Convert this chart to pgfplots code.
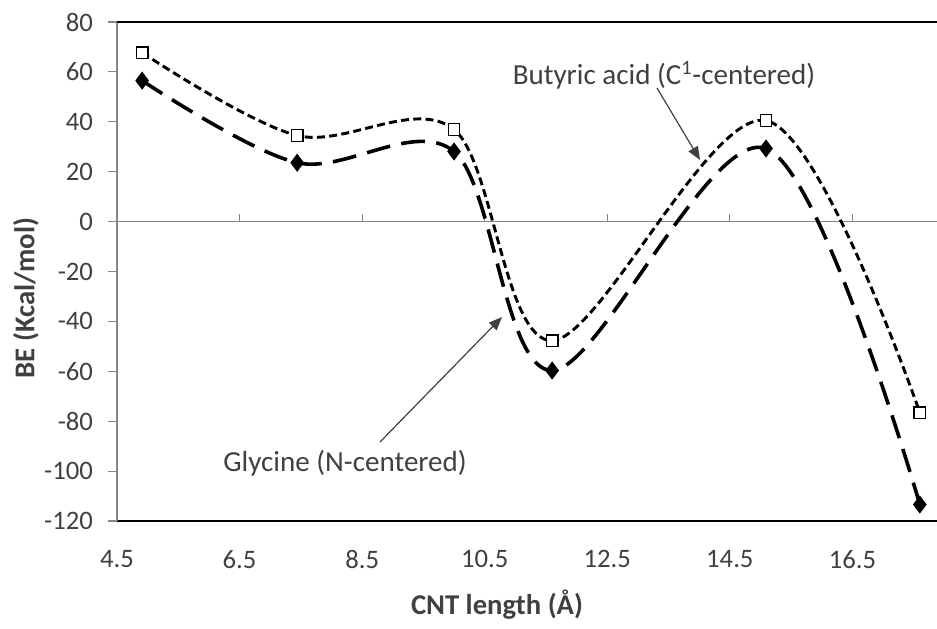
\documentclass[border=0pt]{standalone}
\usepackage{pgfplots}
\pgfplotsset{compat=1.18}
\usepackage{fontspec}
\setmainfont{Carlito}
\usetikzlibrary{arrows.meta}
\definecolor{axgray}{HTML}{868686}
\definecolor{txt}{HTML}{404040}
\begin{document}
\begin{tikzpicture}
\begin{axis}[
  at={(0,0)}, anchor=south west,
  scale only axis, width=615pt, height=374.25pt,
  xmin=4.5, xmax=17.88, ymin=-120, ymax=80,
  xtick={4.5,6.5,...,16.5}, ytick={-120,-100,...,80},
  axis x line*=bottom, axis y line*=left,
  x axis line style={black, line width=1.3pt, -},
  y axis line style={axgray, line width=0.8pt, -},
  xtick style={draw=none},
  ytick style={axgray, line width=0.8pt},
  tick align=outside, major tick length=6.5pt,
  /pgf/number format/assume math mode=true,
  tick label style={font=\fontsize{20}{22}\selectfont, text=txt},
  xticklabel style={/pgf/number format/fixed, /pgf/number format/fixed zerofill, /pgf/number format/precision=1, yshift=-12pt},
  yticklabel style={xshift=-8pt},
  clip=false,
]
\draw[axgray, line width=0.8pt] (axis cs:4.5,0) -- (axis cs:17.88,0);
\pgfplotsinvokeforeach{6.5,8.5,10.5,12.5,14.5,16.5}{
  \draw[axgray, line width=0.8pt] (axis cs:#1,0) -- ++(0pt,5.5pt);
}
\draw[black, line width=1.3pt] (rel axis cs:0,1) -- (rel axis cs:1,1);
\addplot[black, line width=2.2pt, dash pattern=on 6pt off 3.2pt, smooth, tension=0.55,
  mark=square*, mark size=4.3pt, mark options={solid, fill=white, line width=1pt}]
  coordinates {(4.91,67.7) (7.44,34.5) (10.0,36.9) (11.6,-47.7) (15.09,40.5) (17.6,-76.6)};
\addplot[black, line width=2.7pt, dash pattern=on 18pt off 8.5pt, smooth, tension=0.55,
  mark=diamond*, mark size=4.6pt, mark options={solid}]
  coordinates {(4.91,56.5) (7.44,23.6) (10.0,28.1) (11.6,-59.7) (15.09,29.3) (17.6,-113.4)};
\end{axis}
\begin{scope}[shift={(-87.75pt,390.75pt)}, x=0.75pt, y=-0.75pt]
\node[txt, font=\fontsize{21.8}{24}\selectfont] at (664,75) {Butyric acid (C\textsuperscript{1}-centered)};
\draw[txt, line width=0.9pt, -{Triangle[length=10pt, width=8pt]}] (657,88) -- (700,160);
\node[txt, font=\fontsize{21.8}{24}\selectfont] at (345,463) {Glycine (N-centered)};
\draw[txt, line width=0.9pt, -{Triangle[length=10pt, width=8pt]}] (380,442) -- (502,317);
\node[txt, font=\bfseries\fontsize{21.5}{24}\selectfont, rotate=90] at (26,298) {BE (Kcal/mol)};
\node[txt, font=\bfseries\fontsize{21.5}{24}\selectfont] at (497,605) {CNT length (Å)};
\pgfresetboundingbox
\path (0,0) rectangle (937,628);
\end{scope}
\end{tikzpicture}
\end{document}
